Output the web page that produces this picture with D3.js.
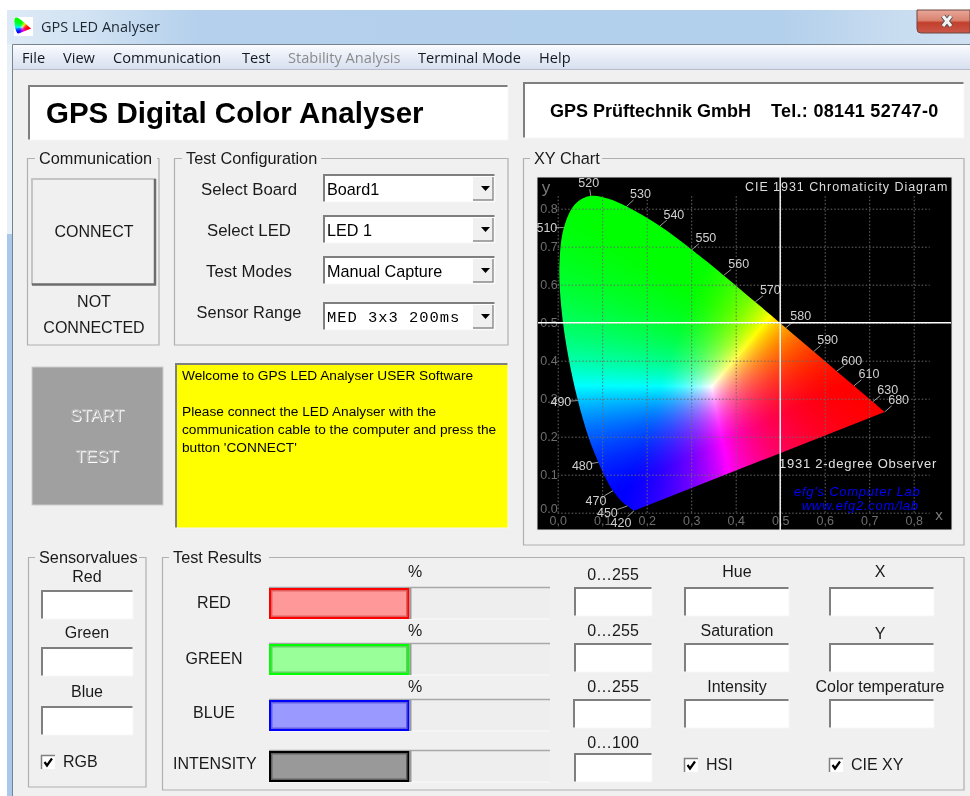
<!DOCTYPE html>
<html>
<head>
<meta charset="utf-8">
<title>GPS LED Analyser</title>
<script src="https://cdn.jsdelivr.net/npm/d3@7"></script>
<style>
  html, body { margin: 0; padding: 0; background: #fff; overflow: hidden; }
  svg { display: block; filter: blur(0.3px); }
  text { font-family: "Liberation Sans", Arial, sans-serif; fill: #1a1a1a; }
  .win { font-family: "Open Sans", "Noto Sans", sans-serif; }
</style>
</head>
<body>
<svg id="app" width="970" height="796"></svg>
<canvas id="cie" style="display:none"></canvas>
<script>
// spectral locus, CIE 1931 [wavelength, x, y]
const locus = [
  [420, .1714, .0051], [440, .1644, .0109], [450, .1566, .0177], [460, .1440, .0297],
  [470, .1241, .0578], [475, .1096, .0868], [480, .0913, .1327], [485, .0687, .2007],
  [490, .0454, .2950], [495, .0235, .4127], [500, .0082, .5384], [505, .0039, .6548],
  [510, .0139, .7502], [515, .0389, .8120], [520, .0743, .8338], [525, .1142, .8262],
  [530, .1547, .8059], [535, .1929, .7816], [540, .2296, .7543], [545, .2658, .7243],
  [550, .3016, .6923], [555, .3373, .6589], [560, .3731, .6245], [565, .4087, .5896],
  [570, .4441, .5547], [575, .4788, .5202], [580, .5125, .4866], [585, .5448, .4544],
  [590, .5752, .4242], [595, .6029, .3965], [600, .6270, .3725], [610, .6658, .3340],
  [620, .6915, .3083], [630, .7079, .2920], [640, .7190, .2809], [680, .7347, .2653]
];
const waveLabels = [420, 450, 470, 480, 490, 510, 520, 530, 540, 550, 560, 570, 580, 590, 600, 610, 630, 680];
const xTicks = [0, .1, .2, .3, .4, .5, .6, .7, .8];
const yTicks = [0, .1, .2, .3, .4, .5, .6, .7, .8];
const crossX = 0.5;
const crossY = 0.5;

const barNames = ['RED', 'GREEN', 'BLUE', 'INTENSITY'];
const barValues = [50, 50, 50, 50];
const rangeLabels = ['0...255', '0...255', '0...255', '0...100'];
const hsiLabels = ['Hue', 'Saturation', 'Intensity'];
const cieLabels = ['X', 'Y', 'Color temperature'];
const sensorLabels = ['Red', 'Green', 'Blue'];
const menuItems = ['File', 'View', 'Communication', 'Test', 'Stability Analysis', 'Terminal Mode', 'Help'];
const selectLabels = ['Select Board', 'Select LED', 'Test Modes', 'Sensor Range'];
const selectValues = ['Board1', 'LED 1', 'Manual Capture', 'MED 3x3 200ms'];
const messageLines = [
  'Welcome to GPS LED Analyser USER Software',
  '',
  'Please connect the LED Analyser with the',
  "communication cable to the computer and press the",
  "button 'CONNECT'"
];

const svg = d3.select('#app');
const BG = '#f0f0f0';

function txt(parent, x, y, s, size, opts = {}) {
  return parent.append('text')
    .attr('x', x).attr('y', y)
    .attr('font-size', size)
    .attr('text-anchor', opts.anchor || 'start')
    .attr('font-weight', opts.weight || null)
    .attr('font-style', opts.style || null)
    .attr('class', opts.cls || null)
    .style('fill', opts.fill || null)
    .style('font-family', opts.family || null)
    .style('letter-spacing', opts.spacing || null)
    .text(s);
}

// sunken edit box, the usual win32 look
function sunken(g, x, y, w, h, fill = '#fff') {
  g.append('rect').attr('x', x).attr('y', y).attr('width', w).attr('height', h).attr('fill', fill);
  g.append('path').attr('d', `M${x + 1},${y + h} V${y + 1} H${x + w}`)
    .attr('fill', 'none').attr('stroke', '#7f7f7f').attr('stroke-width', 2);
  g.append('path').attr('d', `M${x},${y + h} H${x + w} V${y}`)
    .attr('fill', 'none').attr('stroke', '#f6f6f6').attr('stroke-width', 1);
}

function groupBox(g, x0, y0, x1, y1, label, lx0, lx1) {
  g.append('path')
    .attr('d', `M${lx0 - 4},${y0} H${x0} V${y1} H${x1} V${y0} H${lx1 + 4}`)
    .attr('fill', 'none').attr('stroke', '#b0b0b0').attr('stroke-width', 1.2);
  txt(g, lx0, y0 + 5, label, 16.3);
}

function checkbox(g, x, y, label, tx, by) {
  g.append('rect').attr('x', x).attr('y', y).attr('width', 14).attr('height', 14).attr('fill', '#fff');
  g.append('path').attr('d', `M${x + .5},${y + 14} V${y + .5} H${x + 14}`)
    .attr('fill', 'none').attr('stroke', '#808080').attr('stroke-width', 1.5);
  g.append('path').attr('d', `M${x + 3.5},${y + 7} L${x + 6},${y + 10.5} L${x + 11},${y + 3.5}`)
    .attr('fill', 'none').attr('stroke', '#000').attr('stroke-width', 2.2);
  txt(g, tx, by, label, 16);
}

// ---- window frame ----
const defs = svg.append('defs');
const tbGrad = defs.append('linearGradient').attr('id', 'titlebar');
[[0, '#dde9f5'], [.08, '#d2e3f3'], [.2, '#b4d0ec'], [.8, '#b2cfeb'], [.92, '#c8dcf0'], [1, '#cfe0f2']]
  .forEach(d => tbGrad.append('stop').attr('offset', d[0]).attr('stop-color', d[1]));
const menuGrad = defs.append('linearGradient').attr('id', 'menubar').attr('x2', 0).attr('y2', 1);
[[0, '#fbfcfe'], [.3, '#eef2f9'], [1, '#d8e0f0']]
  .forEach(d => menuGrad.append('stop').attr('offset', d[0]).attr('stop-color', d[1]));
const closeGrad = defs.append('linearGradient').attr('id', 'closebtn').attr('x2', 0).attr('y2', 1);
[[0, '#eaa79a'], [.45, '#d9836f'], [.55, '#c33f2c'], [1, '#c9584a']]
  .forEach(d => closeGrad.append('stop').attr('offset', d[0]).attr('stop-color', d[1]));

const frame = svg.append('g');
frame.append('rect').attr('x', 7).attr('y', 10).attr('width', 963).attr('height', 786).attr('fill', 'url(#titlebar)');
frame.append('rect').attr('x', 7).attr('y', 44).attr('width', 6).attr('height', 190).attr('fill', '#e8f0f8');
frame.append('rect').attr('x', 7).attr('y', 234).attr('width', 6).attr('height', 562).attr('fill', '#a9c8ea');
frame.append('rect').attr('x', 13).attr('y', 45).attr('width', 957).attr('height', 751).attr('fill', BG);
frame.append('path').attr('d', 'M12.5,796 V44.5 H970').attr('fill', 'none').attr('stroke', '#77838f').attr('stroke-width', 1);
frame.append('rect').attr('x', 13).attr('y', 45).attr('width', 957).attr('height', 24).attr('fill', 'url(#menubar)');
frame.append('line').attr('x1', 13).attr('x2', 970).attr('y1', 69.5).attr('y2', 69.5).attr('stroke', '#b6bcc9');

frame.append('path').attr('d', 'M917,10 V29 Q917,33 921,33 H970 V10 Z')
  .attr('fill', 'url(#closebtn)').attr('stroke', '#6d4640').attr('stroke-width', 1);
frame.append('path').attr('d', 'M943,16 L951,26 M951,16 L943,26').attr('stroke', '#4a4a4a').attr('stroke-width', 5);
frame.append('path').attr('d', 'M943,16 L951,26 M951,16 L943,26').attr('stroke', '#f2f2f2').attr('stroke-width', 3.2);

txt(frame, 41, 32, 'GPS LED Analyser', 14.5, { cls: 'win', fill: '#1b2733' });

const menuX = [22, 63, 113, 242, 288, 418, 539];
menuItems.forEach((m, i) => {
  txt(frame, menuX[i], 63, m, 14.6, { cls: 'win', fill: m.startsWith('Stability') ? '#8b8b8b' : '#14181f' });
});

// ---- header boxes ----
const head = svg.append('g');
sunken(head, 28, 85, 480, 55);
txt(head, 46, 123, 'GPS Digital Color Analyser', 29.5, { weight: 'bold', fill: '#000' });
sunken(head, 523, 82, 441, 56);
txt(head, 550, 117, 'GPS Prüftechnik GmbH', 18, { weight: 'bold', fill: '#000' });
txt(head, 771, 117, 'Tel.: 08141 52747-0', 18, { weight: 'bold', fill: '#000', spacing: '0.3px' });

// ---- communication ----
const comm = svg.append('g');
groupBox(comm, 27.5, 158.5, 159, 345, 'Communication', 39, 153);
comm.append('rect').attr('x', 32).attr('y', 179).attr('width', 124).attr('height', 106).attr('fill', BG);
comm.append('path').attr('d', 'M32,285 V179 H156').attr('fill', 'none').attr('stroke', '#c4c4c4').attr('stroke-width', 2);
comm.append('path').attr('d', 'M32,284.5 H155 V179').attr('fill', 'none').attr('stroke', '#6c6c6c').attr('stroke-width', 2.5);
txt(comm, 94, 237, 'CONNECT', 16, { anchor: 'middle' });
txt(comm, 94, 307, 'NOT', 16, { anchor: 'middle' });
txt(comm, 94, 333, 'CONNECTED', 16, { anchor: 'middle' });

// ---- test configuration ----
const conf = svg.append('g');
groupBox(conf, 174.5, 158.5, 508, 345, 'Test Configuration', 186, 317);
const comboTop = [174, 215, 256, 302];
selectLabels.forEach((s, i) => {
  txt(conf, 249, [195, 236, 277, 318][i], s, i === 3 ? 16.4 : 16.8, { anchor: 'middle' });
  const y = comboTop[i];
  sunken(conf, 323, y, 172, 28);
  conf.append('rect').attr('x', 473).attr('y', y + 3).attr('width', 20).attr('height', 23).attr('fill', '#f0f0f0');
  conf.append('path').attr('d', `M473,${y + 26} H493 V${y + 3}`).attr('fill', 'none').attr('stroke', '#8a8a8a').attr('stroke-width', 1.4);
  conf.append('path').attr('d', `M481,${y + 12} h9 l-4.5,5 z`).attr('fill', '#000');
  if (i < 3) {
    txt(conf, 327, y + 21, selectValues[i], 16.2, { fill: '#000' });
  } else {
    txt(conf, 327, y + 20, selectValues[i], 15.5, { fill: '#000', family: '"Liberation Mono", monospace', spacing: '0.95px' });
  }
});

// ---- start button + message ----
const mid = svg.append('g');
mid.append('rect').attr('x', 32).attr('y', 367).attr('width', 131).attr('height', 138).attr('fill', '#a0a0a0').attr('stroke', '#cccccc');
// disabled caption: white shadow under a grey face
[['START', 421], ['TEST', 462]].forEach(d => {
  txt(mid, 98, d[1] + 1, d[0], 17, { anchor: 'middle', fill: '#ffffff' });
  txt(mid, 97, d[1], d[0], 17, { anchor: 'middle', fill: '#b4b4b4' });
});
sunken(mid, 175, 363, 333, 165, '#ffff00');
messageLines.forEach((l, i) => txt(mid, 182, 380 + i * 18, l, 13.7, { fill: '#000' }));

// ---- XY chart ----
const chart = svg.append('g');
groupBox(chart, 523.5, 158.5, 964, 545, 'XY Chart', 534, 598);
chart.append('rect').attr('x', 537).attr('y', 177).attr('width', 415).attr('height', 353).attr('fill', '#000').attr('stroke', '#e8e8e8');

const x = d3.scaleLinear().domain([0, .8]).range([557.7, 913.7]);
const y = d3.scaleLinear().domain([0, .8]).range([512.7, 208.7]);

const blur = defs.append('filter').attr('id', 'soft');
blur.append('feGaussianBlur').attr('stdDeviation', 0.5);

// colour field: chromaticity -> RGB through sRGB primaries, white near E
const prim = { r: [.64, .33], g: [.30, .60], b: [.15, .06] };
const white = [.345, .333];
function weights(cx, cy) {
  const det = (prim.g[1] - prim.b[1]) * (prim.r[0] - prim.b[0]) + (prim.b[0] - prim.g[0]) * (prim.r[1] - prim.b[1]);
  const a = ((prim.g[1] - prim.b[1]) * (cx - prim.b[0]) + (prim.b[0] - prim.g[0]) * (cy - prim.b[1])) / det;
  const b = ((prim.b[1] - prim.r[1]) * (cx - prim.b[0]) + (prim.r[0] - prim.b[0]) * (cy - prim.b[1])) / det;
  return [a, b, 1 - a - b];
}
const wW = weights(white[0], white[1]);
const canvas = document.getElementById('cie');
canvas.width = 970; canvas.height = 796;
const ctx = canvas.getContext('2d');
const img = ctx.createImageData(970, 796);
for (let py = 170; py < 530; py++) {
  for (let px = 540; px < 900; px++) {
    const w = weights(x.invert(px), y.invert(py));
    let c = w.map((v, i) => Math.max(0, v / wW[i]));
    const m = Math.max(c[0], c[1], c[2]) || 1;
    c = c.map(v => Math.pow(v / m, 1.25) * 255);
    const k = (py * 970 + px) * 4;
    img.data[k] = c[0]; img.data[k + 1] = c[1]; img.data[k + 2] = c[2]; img.data[k + 3] = 255;
  }
}
ctx.putImageData(img, 0, 0);
const fieldUrl = canvas.toDataURL();

const locusPath = d3.line().x(d => x(d[1])).y(d => y(d[2])).curve(d3.curveCatmullRom)(locus) + 'Z';
defs.append('clipPath').attr('id', 'locusClip').append('path').attr('d', locusPath);

chart.append('image').attr('href', fieldUrl).attr('width', 970).attr('height', 796).attr('clip-path', 'url(#locusClip)');
const plot = chart.append('g').attr('filter', 'url(#soft)');

const xAxis = plot.append('g').attr('transform', `translate(0,${y(0)})`)
  .call(d3.axisBottom(x).tickValues(xTicks).tickSize(-318.5).tickPadding(3).tickFormat(d3.format('.1f')));
xAxis.selectAll('text').text(d => d3.format('.1f')(d).replace('.', ',')).attr('font-size', 12.5).style('fill', '#6e6e6e').attr('dy', '0.72em');
const yAxis = plot.append('g').attr('transform', `translate(${x(0)},0)`)
  .call(d3.axisLeft(y).tickValues(yTicks).tickSize(-372).tickPadding(0).tickFormat(d3.format('.1f')));
yAxis.selectAll('text').attr('font-size', 12.5).style('fill', '#6e6e6e');
yAxis.select('.tick:first-of-type text').attr('dy', '0');
plot.selectAll('.domain').remove();
plot.selectAll('.tick line').attr('stroke', '#6a6a6a').attr('stroke-dasharray', '1.5,2').attr('stroke-width', 1);

txt(plot, 546, 193, 'y', 17, { anchor: 'middle', fill: '#7a7a7a' });
txt(plot, 939, 520, 'x', 15, { anchor: 'middle', fill: '#7a7a7a' });

// wavelength ticks and labels, offset from the point on the locus
const labelOffset = {
  420: [-13, 12], 450: [-20, 7], 470: [-17, 10], 480: [-16, 3], 490: [-17, 1], 510: [-17, 0],
  520: [-2, -13], 530: [14, -13], 540: [14, -12], 550: [14, -12], 560: [15, -12], 570: [15, -12],
  580: [15, -12], 590: [14, -12], 600: [15, -11], 610: [15, -12], 630: [15, -12], 680: [14, -12]
};
waveLabels.forEach(w => {
  const p = locus.find(d => d[0] === w);
  const [dx, dy] = labelOffset[w];
  plot.append('line')
    .attr('x1', x(p[1])).attr('y1', y(p[2]))
    .attr('x2', x(p[1]) + dx * .5).attr('y2', y(p[2]) + dy * .5)
    .attr('stroke', '#9a9a9a');
  txt(plot, x(p[1]) + dx, y(p[2]) + dy + 4.5, w, 12.5, { anchor: 'middle', fill: '#d0d0d0' });
});

txt(plot, 745, 191, 'CIE 1931 Chromaticity Diagram', 12.5, { fill: '#dcdcdc', spacing: '0.95px' });
txt(plot, 779, 468, '1931 2-degree Observer', 13, { fill: '#e0e0e0', spacing: '0.75px' });
txt(plot, 794, 496, "efg's Computer Lab", 13, { fill: '#0000ff', style: 'italic', spacing: '0.75px' });
txt(plot, 802, 510, 'www.efg2.com/lab', 13, { fill: '#0000ff', style: 'italic', spacing: '0.7px' });

chart.append('line').attr('x1', 538).attr('x2', 951).attr('y1', y(crossY)).attr('y2', y(crossY)).attr('stroke', '#fff').attr('stroke-width', 1.4);
chart.append('line').attr('x1', x(crossX)).attr('x2', x(crossX)).attr('y1', 177).attr('y2', 530).attr('stroke', '#fff').attr('stroke-width', 1.4);

// title bar icon: the same field, shrunk
const icon = frame.append('g');
icon.append('rect').attr('x', 14).attr('y', 17).attr('width', 19).attr('height', 19).attr('fill', '#fff');
icon.append('g').attr('transform', 'translate(14,17) scale(0.052) translate(-555,-190)')
  .append('image').attr('href', fieldUrl).attr('width', 970).attr('height', 796).attr('clip-path', 'url(#locusClip)');

// ---- sensor values ----
const sens = svg.append('g');
groupBox(sens, 28.5, 557.5, 146, 787, 'Sensorvalues', 39, 135);
const sensBase = [582, 638, 697];
const sensTop = [590, 647, 706];
sensorLabels.forEach((s, i) => {
  txt(sens, 87, sensBase[i], s, 16, { anchor: 'middle' });
  sunken(sens, 41, sensTop[i], 92, 29);
});
checkbox(sens, 41, 755, 'RGB', 63, 767);

// ---- test results ----
const res = svg.append('g');
groupBox(res, 162.5, 557.5, 964, 790, 'Test Results', 173, 265);

const barX = d3.scaleLinear().domain([0, 100]).range([269, 550]);
const barTop = [587, 643, 699, 750];
const barLabelBase = [608, 664, 718, 769];
const barColors = [['#ff0000', '#ff9999', '#e06060'], ['#00ff00', '#99ff99', '#60d060'], ['#0000ff', '#9999ff', '#6060e0'], ['#000000', '#999999', '#606060']];
barNames.forEach((n, i) => {
  const t = barTop[i], h = 32;
  txt(res, i === 3 ? 173 : 214, barLabelBase[i], n, 16, { anchor: i === 3 ? 'start' : 'middle' });
  res.append('rect').attr('x', barX(0)).attr('y', t).attr('width', barX(100) - barX(0)).attr('height', h).attr('fill', '#eeeeee');
  res.append('path').attr('d', `M${barX(0)},${t + .5} H${barX(100)}`).attr('stroke', '#a8a8a8').attr('stroke-width', 1.5);
  res.append('path').attr('d', `M${barX(0)},${t + h} H${barX(100)}`).attr('stroke', '#fafafa').attr('stroke-width', 1);
  const w = barX(barValues[i]) - barX(0);
  res.append('rect').attr('x', barX(0)).attr('y', t + 1).attr('width', w).attr('height', h - 1).attr('fill', barColors[i][0]);
  res.append('rect').attr('x', barX(0) + 2).attr('y', t + 3).attr('width', w - 4).attr('height', h - 5).attr('fill', barColors[i][2]);
  res.append('rect').attr('x', barX(0) + 3.5).attr('y', t + 4.5).attr('width', w - 7).attr('height', h - 8).attr('fill', barColors[i][1]);
  res.append('rect').attr('x', barX(barValues[i])).attr('y', t + 1).attr('width', 2).attr('height', h - 1).attr('fill', '#9a9a9a');
});
[577, 636, 692].forEach(b => txt(res, 415, b, '%', 16, { anchor: 'middle' }));

const rangeTop = [587, 643, 699, 753];
const rangeBase = [580, 636, 692, 748];
rangeLabels.forEach((r, i) => {
  txt(res, 613, rangeBase[i], r.replace('...', '…'), 16, { anchor: 'middle' });
  sunken(res, i === 2 ? 573 : 574, rangeTop[i], 78, 29);
});
const hsiBase = [577, 636, 692];
hsiLabels.forEach((s, i) => {
  txt(res, 737, hsiBase[i], s, 16, { anchor: 'middle' });
  sunken(res, 684, rangeTop[i], 105, 29);
});
const cieBase = [577, 639, 692];
cieLabels.forEach((s, i) => {
  txt(res, 880, cieBase[i], s, 16, { anchor: 'middle' });
  sunken(res, 829, rangeTop[i], 105, 29);
});
checkbox(res, 684, 758, 'HSI', 706, 770);
checkbox(res, 829, 758, 'CIE XY', 851, 770);
</script>
</body>
</html>
